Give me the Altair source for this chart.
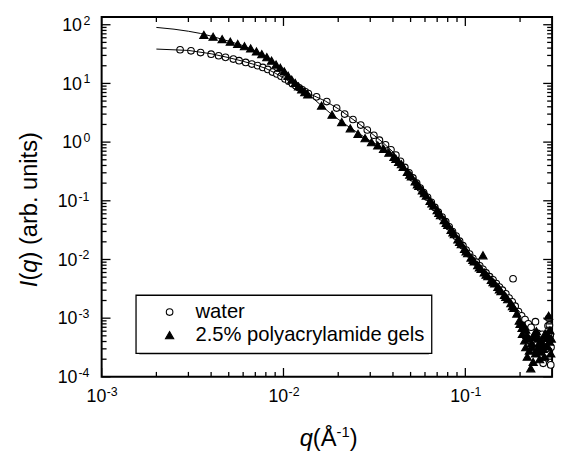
import altair as alt
import pandas as pd

# ---------------- data ----------------
water_q = [0.0027, 0.0031, 0.0035, 0.0040, 0.0044, 0.0048, 0.0053, 0.0057, 0.0062, 0.0067,
           0.0072, 0.0077, 0.0082, 0.0087, 0.0092, 0.0097, 0.0102, 0.0107, 0.0112, 0.0117,
           0.0122, 0.0127, 0.0132, 0.0137,
           0.0152, 0.0173, 0.0196, 0.0217, 0.0241, 0.0266, 0.0289, 0.0314, 0.0337, 0.0364,
           0.0390, 0.0415, 0.0440, 0.0465, 0.0490, 0.0515, 0.0540, 0.0565, 0.0590, 0.0620,
           0.0650, 0.0680, 0.0710, 0.0745, 0.0780, 0.0815, 0.0850, 0.0890, 0.0930, 0.0970,
           0.1010, 0.1055, 0.1100, 0.1150, 0.1200, 0.1250, 0.1300, 0.1360, 0.1420, 0.1480,
           0.1540, 0.1600, 0.1670, 0.1740, 0.1830, 0.1810, 0.1880, 0.1960, 0.2040, 0.2130,
           0.2220, 0.2300, 0.2430, 0.2500, 0.2580, 0.2650, 0.2700, 0.2740, 0.2680, 0.2780,
           0.2850, 0.2900, 0.2930, 0.2960, 0.2950, 0.2880]
water_I = [37.5, 35.9, 33.6, 31.5, 29.6, 27.8, 26.0, 24.4, 22.8, 21.4,
           20.1, 18.7, 17.3, 15.6, 14.5, 13.3, 11.9, 10.9, 9.9, 9.1,
           8.4, 7.8, 7.2, 6.7,
           5.9, 4.9, 3.8, 3.0, 2.43, 1.95, 1.61, 1.31, 1.08, 0.90,
           0.74, 0.60, 0.47, 0.37, 0.30, 0.245, 0.200, 0.165, 0.138, 0.115,
           0.094, 0.077, 0.064, 0.053, 0.044, 0.036, 0.030, 0.025, 0.0205, 0.0172,
           0.0145, 0.0124, 0.0105, 0.0090, 0.0078, 0.0068, 0.0059, 0.0051, 0.0045, 0.0039,
           0.0034, 0.0030, 0.0026, 0.0022, 0.0047, 0.0019, 0.0016, 0.0013, 0.0011, 0.00095,
           0.0008, 0.0007, 0.00087, 0.00055, 0.00048, 0.00053, 0.00040, 0.00020, 0.00017, 0.00030,
           0.00074, 0.00076, 0.00051, 0.00032, 0.00016, 0.00100]

gel_q = [0.00365, 0.0041, 0.0046, 0.0051, 0.0056, 0.0061, 0.0066, 0.0071, 0.0076, 0.0081,
         0.0086, 0.0091, 0.0096, 0.0101, 0.0106, 0.0111, 0.0116, 0.0121, 0.0126, 0.0131,
         0.0136,
         0.0162, 0.0185, 0.0209, 0.0233, 0.0257, 0.0281, 0.0305, 0.0330, 0.0355, 0.0380,
         0.0405, 0.0430, 0.0455,
         0.0480, 0.0505, 0.0530, 0.0555, 0.0580, 0.0610, 0.0640, 0.0670, 0.0700, 0.0730,
         0.0765, 0.0800, 0.0835, 0.0870, 0.0910, 0.0950, 0.0990, 0.1030, 0.1075, 0.1120,
         0.1170, 0.1220, 0.1250, 0.1270, 0.1330, 0.1390, 0.1450, 0.1510, 0.1570, 0.1640,
         0.1710, 0.1780, 0.1850, 0.1920, 0.1980, 0.2060, 0.2100, 0.2150, 0.2150, 0.2190,
         0.2230, 0.2290, 0.2330, 0.2380, 0.2430, 0.2460, 0.2540, 0.2560, 0.2620, 0.2680,
         0.2750, 0.2820, 0.2870, 0.2900, 0.2950,
         0.0415, 0.0445, 0.0495, 0.0545, 0.0595, 0.0655, 0.0715, 0.0785, 0.0855, 0.0930,
         0.1010, 0.1100, 0.1195, 0.1300, 0.1420, 0.1540, 0.1670, 0.1815,
         0.2000, 0.2050, 0.2120, 0.2180, 0.2250, 0.2320, 0.2360, 0.2410, 0.2480, 0.2520,
         0.2580, 0.2650, 0.2720, 0.2780, 0.2840, 0.2920, 0.2970]
gel_I = [67.0, 62.5, 57.0, 51.5, 47.0, 43.0, 39.5, 35.0, 31.5, 28.0,
         24.5, 21.0, 18.5, 16.0, 13.5, 11.6, 10.2, 8.9, 7.9, 7.1,
         6.5,
         4.2, 2.94, 2.2, 1.72, 1.38, 1.17, 1.0, 0.88, 0.77, 0.66,
         0.56, 0.46, 0.38,
         0.31, 0.26, 0.215, 0.18, 0.150, 0.123, 0.100, 0.083, 0.069, 0.057,
         0.047, 0.039, 0.032, 0.027, 0.022, 0.0182, 0.0152, 0.0128, 0.0108, 0.0093,
         0.0080, 0.0069, 0.0118, 0.0060, 0.0052, 0.0045, 0.0039, 0.0034, 0.0029, 0.0025,
         0.0021, 0.0018, 0.0015, 0.0012, 0.00091, 0.00054, 0.00075, 0.00032, 0.00064, 0.00022,
         0.00045, 0.00014, 0.00032, 0.00048, 0.00025, 0.00060, 0.00037, 0.00020, 0.00042, 0.00030,
         0.00055, 0.00054, 0.00110, 0.00040, 0.00025,
         0.52, 0.42, 0.28, 0.19, 0.135, 0.090, 0.062, 0.042, 0.029, 0.020,
         0.0138, 0.0098, 0.0073, 0.0055, 0.0041, 0.0031, 0.0023, 0.0016,
         0.00080, 0.00068, 0.00042, 0.00052, 0.00028, 0.00038, 0.00018, 0.00056, 0.00030, 0.00045,
         0.00027, 0.00035, 0.00022, 0.00046, 0.00033, 0.00062, 0.00045]

wfit_q = [0.002, 0.003, 0.004, 0.005, 0.006, 0.007, 0.008, 0.009, 0.010, 0.012, 0.014,
          0.017, 0.020, 0.025, 0.030, 0.035, 0.040, 0.050, 0.060, 0.070, 0.080, 0.100,
          0.120, 0.150, 0.200]
wfit_I = [38.5, 36.5, 32.0, 27.5, 23.8, 20.8, 18.0, 15.0, 12.4, 8.9, 6.6,
          5.0, 3.7, 2.25, 1.47, 1.0, 0.68, 0.28, 0.135, 0.072, 0.041, 0.0152,
          0.0078, 0.0037, 0.00125]
gfit_q = [0.002, 0.0025, 0.003, 0.0035, 0.004, 0.005, 0.006, 0.007, 0.008, 0.009, 0.010,
          0.011, 0.012, 0.013, 0.014, 0.016, 0.018, 0.020, 0.023, 0.026, 0.030, 0.034,
          0.038, 0.042, 0.046, 0.050, 0.060, 0.070, 0.080, 0.100, 0.120, 0.150, 0.200]
gfit_I = [90.0, 84.0, 77.5, 71.0, 64.0, 52.5, 44.0, 36.0, 28.8, 22.0, 16.5,
          12.2, 9.3, 7.4, 6.2, 4.3, 3.15, 2.45, 1.8, 1.4, 1.05, 0.85,
          0.67, 0.51, 0.37, 0.27, 0.128, 0.069, 0.039, 0.0148, 0.0069, 0.0033, 0.0011]

# axis ticks and tick labels
x_major = [0.001, 0.01, 0.1]
x_major_exp = ["-3", "-2", "-1"]
x_minor = [0.002, 0.003, 0.004, 0.005, 0.006, 0.007, 0.008, 0.009,
           0.02, 0.03, 0.04, 0.05, 0.06, 0.07, 0.08, 0.09, 0.2]
y_major = [1e-4, 1e-3, 1e-2, 1e-1, 1, 10, 100]
y_neg = [1e-4, 1e-3, 1e-2, 1e-1]
y_neg_exp = ["-4", "-3", "-2", "-1"]
y_pos = [1, 10, 100]
y_pos_exp = ["0", "1", "2"]
y_minor = [2e-4, 3e-4, 4e-4, 5e-4, 6e-4, 7e-4, 8e-4, 9e-4,
           2e-3, 3e-3, 4e-3, 5e-3, 6e-3, 7e-3, 8e-3, 9e-3,
           2e-2, 3e-2, 4e-2, 5e-2, 6e-2, 7e-2, 8e-2, 9e-2,
           0.2, 0.3, 0.4, 0.5, 0.6, 0.7, 0.8, 0.9,
           2, 3, 4, 5, 6, 7, 8, 9,
           20, 30, 40, 50, 60, 70, 80, 90]

SER_W = "water"
SER_G = "2.5% polyacrylamide gels"
series_names = [SER_W, SER_G]

pts = pd.DataFrame({
    "q": water_q + gel_q,
    "I": water_I + gel_I,
    "series": [SER_W] * len(water_q) + [SER_G] * len(gel_q),
})
fit = pd.DataFrame({
    "q": wfit_q + gfit_q,
    "I": wfit_I + gfit_I,
    "series": [SER_W] * len(wfit_q) + [SER_G] * len(gfit_q),
})

# ---------------- layout / style ----------------
W, H = 457, 365
FONT = "Liberation Sans"
MAJ, MIN = 9, 5
LBL, EXP = 18, 12.5

xs = alt.Scale(type="log", domain=[0.001, 0.3], nice=False)
ys = alt.Scale(type="log", domain=[1e-4, 135], nice=False)

leg = alt.Legend(title=None, orient="none", legendX=34.7, legendY=282)

points = alt.Chart(pts).mark_point(filled=True, strokeWidth=1.1, opacity=1).encode(
    x=alt.X("q:Q", scale=xs, axis=None),
    y=alt.Y("I:Q", scale=ys, axis=None),
    shape=alt.Shape("series:N", scale=alt.Scale(domain=series_names, range=["circle", "triangle-up"]), legend=leg),
    fill=alt.Fill("series:N", scale=alt.Scale(domain=series_names, range=["white", "black"]), legend=leg),
    stroke=alt.Stroke("series:N", scale=alt.Scale(domain=series_names, range=["black", "black"]), legend=leg),
    size=alt.Size("series:N", scale=alt.Scale(domain=series_names, range=[45, 70]), legend=leg),
)

lines = alt.Chart(fit).mark_line(color="black", strokeWidth=1).encode(
    x=alt.X("q:Q", scale=xs, axis=None),
    y=alt.Y("I:Q", scale=ys, axis=None),
    detail="series:N",
)


def xticks(vals, length):
    df = pd.DataFrame({"v": vals})
    bottom = alt.Chart(df).mark_rule(color="black", strokeWidth=1.3).encode(
        x=alt.X("v:Q", scale=xs, axis=None), y=alt.value(H), y2=alt.value(H - length))
    top = alt.Chart(df).mark_rule(color="black", strokeWidth=1.3).encode(
        x=alt.X("v:Q", scale=xs, axis=None), y=alt.value(0), y2=alt.value(length))
    return [bottom, top]


def yticks(vals, length):
    df = pd.DataFrame({"v": vals})
    left = alt.Chart(df).mark_rule(color="black", strokeWidth=1.3).encode(
        y=alt.Y("v:Q", scale=ys, axis=None), x=alt.value(0), x2=alt.value(length))
    right = alt.Chart(df).mark_rule(color="black", strokeWidth=1.3).encode(
        y=alt.Y("v:Q", scale=ys, axis=None), x=alt.value(W), x2=alt.value(W - length))
    return [left, right]


def tmark(size, align, dx=0, dy=0):
    return dict(font=FONT, fontSize=size, color="black", align=align,
                baseline="alphabetic", dx=dx, dy=dy)


# x tick labels: "10" + raised exponent
dfx = pd.DataFrame({"v": x_major, "e": x_major_exp})
x_lab = [
    alt.Chart(dfx).mark_text(**tmark(LBL, "right", dx=4.7)).encode(
        x=alt.X("v:Q", scale=xs, axis=None), y=alt.value(H + 26), text=alt.value("10")),
    alt.Chart(dfx).mark_text(**tmark(EXP, "left", dx=5.2)).encode(
        x=alt.X("v:Q", scale=xs, axis=None), y=alt.value(H + 19), text="e:N"),
]


def ylabels(vals, exps, x10, xexp):
    df = pd.DataFrame({"v": vals, "e": exps})
    return [
        alt.Chart(df).mark_text(**tmark(LBL, "right", dy=6.4)).encode(
            y=alt.Y("v:Q", scale=ys, axis=None), x=alt.value(x10), text=alt.value("10")),
        alt.Chart(df).mark_text(**tmark(EXP, "left", dy=0)).encode(
            y=alt.Y("v:Q", scale=ys, axis=None), x=alt.value(xexp), text="e:N"),
    ]


y_lab = ylabels(y_pos, y_pos_exp, -20, -18.5) + ylabels(y_neg, y_neg_exp, -24.5, -23.5)

one = pd.DataFrame({"a": [0]})

shadow = alt.Chart(one).mark_rect(color="black").encode(
    x=alt.value(38.2), x2=alt.value(332), y=alt.value(285.5), y2=alt.value(342))


def txt(s, x, y, size=24, italic=False, angle=0):
    kw = dict(font=FONT, fontSize=size, color="black", align="left", baseline="alphabetic")
    if italic:
        kw["fontStyle"] = "italic"
    if angle:
        kw["angle"] = angle
    return alt.Chart(one).mark_text(**kw).encode(x=alt.value(x), y=alt.value(y), text=alt.value(s))


XB = 435
x_title = [
    txt("q", 201, XB, italic=True),
    txt("(Å", 214.3, XB),
    txt("-1", 238.3, XB - 9, size=15),
    txt(")", 251.6, XB),
]
YX = -66
y_title = [
    txt("I", YX, 274, italic=True, angle=270),
    txt("(", YX, 267.3, angle=270),
    txt("q", YX, 259.3, italic=True, angle=270),
    txt(") (arb. units)", YX, 246, angle=270),
]

layers = [shadow, points, lines] + xticks(x_major, MAJ) + xticks(x_minor, MIN) \
    + yticks(y_major, MAJ) + yticks(y_minor, MIN) + x_lab + y_lab + x_title + y_title

chart = alt.layer(*layers).properties(
    width=W, height=H,
    padding={"left": 95, "top": 6, "right": 6, "bottom": 72},
    autosize=alt.AutoSizeParams(type="none"),
    background="white",
).configure_view(
    stroke="black", strokeWidth=2
).configure_legend(
    fillColor="white", strokeColor="black", strokeWidth=1.3, padding=7,
    labelFont=FONT, labelFontSize=20.5, labelColor="black", labelLimit=400,
    symbolOffset=17, labelOffset=16, rowPadding=2.4,
    symbolStrokeColor="black", symbolStrokeWidth=1.1,
)

chart.save("out.html", embed_options={"renderer": "svg", "actions": False})
